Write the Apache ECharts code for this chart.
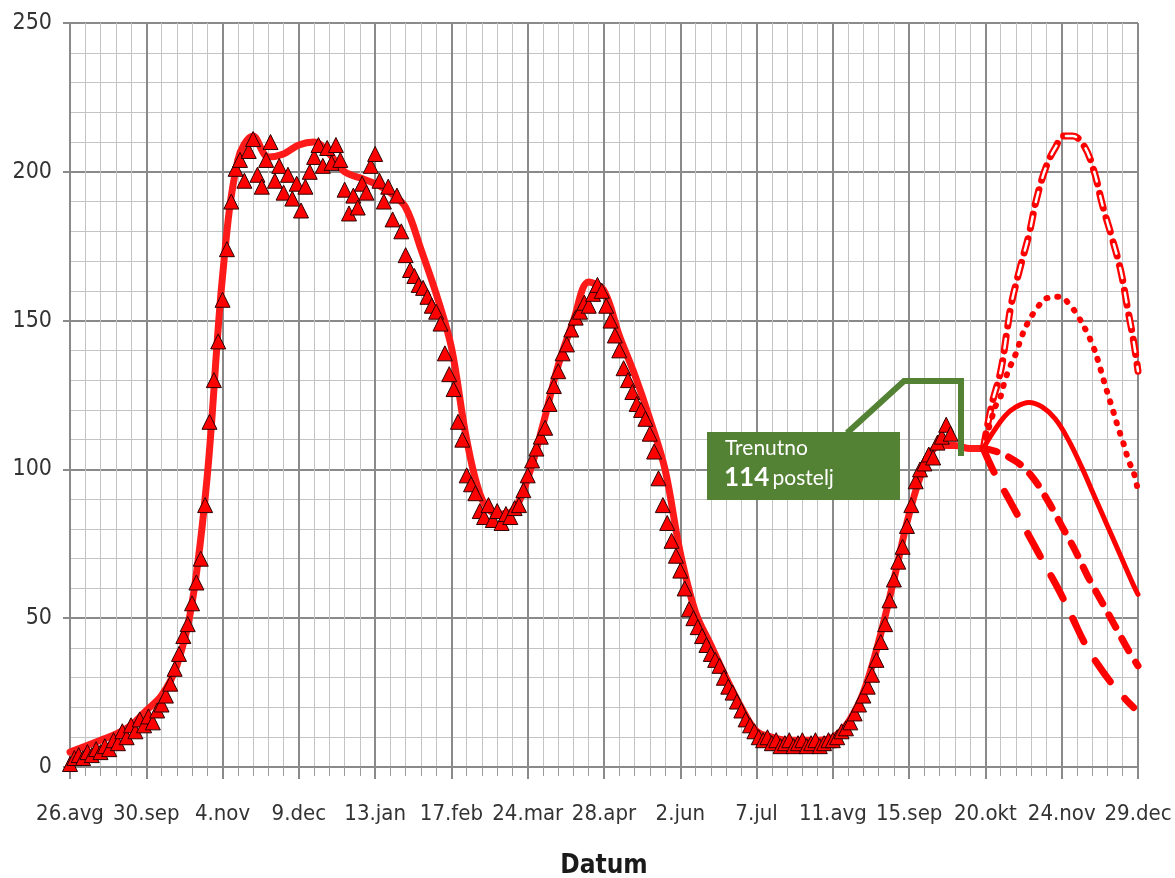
<!DOCTYPE html>
<html>
<head>
<meta charset="utf-8">
<script src="https://cdn.jsdelivr.net/npm/echarts/dist/echarts.min.js"></script>
<style>
html,body{margin:0;padding:0;background:#fff;}
#chart{width:1175px;height:878px;}
</style>
</head>
<body>
<div id="chart"></div>
<script>
// x axis: days since 26.avg (2020); one major tick every 35 days
const tickLabels = ['26.avg','30.sep','4.nov','9.dec','13.jan','17.feb','24.mar','28.apr','2.jun','7.jul','11.avg','15.sep','20.okt','24.nov','29.dec'];
const tickStep = 35;

// measured occupied beds (triangles), one value every 2 days from day 0
const measuredStep = 2;
const measuredValues = [
  1,3,4,3,5,4,6,5,7,6,
  9,8,12,10,14,12,16,14,17,15,
  19,21,24,28,33,38,44,48,55,62,
  70,88,116,130,143,157,174,190,201,204,
  197,207,211,199,195,204,210,197,202,193,
  199,191,196,187,195,200,205,209,202,208,
  203,209,204,194,186,192,188,196,193,202,
  206,197,190,195,184,192,180,172,167,165,
  162,161,158,155,153,149,139,132,127,116,
  110,98,95,92,86,84,88,83,86,82,
  85,84,87,88,93,98,103,107,111,114,
  122,128,133,139,142,147,151,153,156,155,
  159,162,160,155,150,145,140,134,130,126,
  122,120,117,112,106,97,88,82,76,71,
  66,60,53,50,47,44,41,38,36,34,
  30,27,25,22,19,16,14,12,10,9,
  10,8,9,7,8,9,7,8,9,7,
  8,9,7,8,9,9,10,12,13,15,
  18,21,24,27,31,36,42,48,56,63,
  69,74,81,88,96,100,102,105,104,109,
  111,115,112
];

// smoothed model curve (thick red line)
const fitDays   = [0,7,14,21,28,35,42,49,56,63,70,77,84,91,98,105,112,119,126,133,140,147,154,161,168,175,182,189,196,203,210,217,224,231,238,245,252,259,266,273,280,287,294,301,308,315,322,329,336,343,350,357,364,371,378,385,392,399,406,413,419];
const fitValues = [5,7,9,11,14,19,24,34,55,98,165,204,212,205,206,209,210,206,200,198,196,193,188,174,159,141,110,90,85,86,97,115,135,150,163,160,145,132,117,100,72,52,41,30,20,12,10,9,9,9,10,15,25,42,63,85,101,108,108,107,107];

// projections (scenarios)
const projADays   = [419,423,427,430,432,436,440,443.5,448,452,456,460,465,469.5,474,478,482,485,488,490];
const projAValues = [107,122,133,147,156,168,179,191,202,208,212,212,209,201,188,178,167,155,143,133];
const projBDays   = [419,424.5,426.7,429,431.3,434.3,436.6,439.7,443.5,448,454,459,462.6,466.4,469.5,471.8,474,476.3,478.7,481,483.3,485.6,488.6,490];
const projBValues = [107,121,124,130,134.5,139.5,144.6,149.6,154,157.5,158,155,151.3,146.3,141.2,136.2,130.6,125,119.4,113.8,108.8,103.2,97.6,92];
const projCDays   = [419,424,429,434,440,446,452,458,464,470,476,482,488,490];
const projCValues = [107,113,118,121,122.5,121,117,110,101,91,81,71,61,58];
const projDDays   = [419,425,431,437,443,449,455,461,467,473,479,485,490];
const projDValues = [107,106,104,101,96,89,81,73,64,56,48,40,34];
const projEDays   = [419,424,430,436,442,448,454,460,466,472,478,484,488];
const projEValues = [107,99,91,83,75,67,59,50,41,34,28,23,20];

const yTicks = [0,50,100,150,200,250];

function pairs(xs, ys){ return xs.map((x,i)=>[x, ys[i]]); }
const measured = measuredValues.map((v,i)=>[i*measuredStep, v]);

const RED = '#ff0000';
const GREEN = '#548235';
const labelFont = "'Liberation Sans Narrow','DejaVu Sans Condensed','Arial Narrow',sans-serif";

const chart = echarts.init(document.getElementById('chart'), null, {renderer:'canvas'});
chart.setOption({
  animation: false,
  backgroundColor: '#ffffff',
  grid: {left:70, top:23, right:37, bottom:111, containLabel:false, outerBoundsMode:'none'},
  xAxis: {
    type:'value', min:0, max:tickStep*(tickLabels.length-1), interval:tickStep,
    name:'Datum', nameLocation:'middle', nameGap:86,
    nameTextStyle:{fontFamily:labelFont, fontWeight:'bold', fontSize:26, color:'#1a1a1a'},
    axisLine:{show:true, lineStyle:{color:'#8a8a8a', width:2}},
    axisTick:{show:true, length:12, lineStyle:{color:'#8a8a8a', width:2}},
    minorTick:{show:true, splitNumber:5, length:9, lineStyle:{color:'#9a9a9a', width:1}},
    splitLine:{show:true, lineStyle:{color:'#8a8a8a', width:2}},
    minorSplitLine:{show:true, lineStyle:{color:'#c4c4c4', width:1}},
    axisLabel:{
      margin:36, fontFamily:labelFont, fontSize:22, color:'#333333',
      showMinLabel:true, showMaxLabel:true, hideOverlap:false, interval:0,
      formatter:(v)=>tickLabels[Math.round(v/tickStep)] || ''
    }
  },
  yAxis: {
    type:'value', min:yTicks[0], max:yTicks[yTicks.length-1], interval:50,
    axisLine:{show:true, lineStyle:{color:'#8a8a8a', width:2}},
    axisTick:{show:true, length:7, lineStyle:{color:'#8a8a8a', width:2}},
    minorTick:{show:true, splitNumber:5, length:0, lineStyle:{color:'#ffffff', width:0}},
    splitLine:{show:true, lineStyle:{color:'#8a8a8a', width:2}},
    minorSplitLine:{show:true, lineStyle:{color:'#c4c4c4', width:1}},
    axisLabel:{margin:18, fontFamily:labelFont, fontSize:23, color:'#333333', showMinLabel:true, showMaxLabel:true}
  },
  series: [
    {name:'fit', type:'line', data:pairs(fitDays, fitValues), smooth:0.35, showSymbol:false, z:3,
     lineStyle:{color:'#ff1a1a', width:7, cap:'round', join:'round'}},
    {name:'A', type:'line', data:pairs(projADays, projAValues), smooth:0.4, showSymbol:false, z:4,
     lineStyle:{color:RED, width:7, type:[15,10], cap:'round'}},
    {name:'A-inner', type:'line', data:pairs(projADays, projAValues), smooth:0.4, showSymbol:false, z:4,
     lineStyle:{color:'#ffffff', width:2.5, type:[10,15], dashOffset:-2.5, cap:'round'}},
    {name:'B', type:'line', data:pairs(projBDays, projBValues), smooth:0.4, showSymbol:false, z:4,
     lineStyle:{color:RED, width:6, type:[1,10], cap:'round'}},
    {name:'C', type:'line', data:pairs(projCDays, projCValues), smooth:0.4, showSymbol:false, z:4,
     lineStyle:{color:RED, width:5, cap:'round'}},
    {name:'D', type:'line', data:pairs(projDDays, projDValues), smooth:0.4, showSymbol:false, z:4,
     lineStyle:{color:RED, width:7, type:[14,13], cap:'round'}},
    {name:'E', type:'line', data:pairs(projEDays, projEValues), smooth:0.4, showSymbol:false, z:4,
     lineStyle:{color:RED, width:7, type:[26,22], cap:'round'}},
    {name:'measured', type:'scatter', data:measured, symbol:'triangle', symbolSize:[15,15], z:5,
     itemStyle:{color:RED, borderColor:'#2a0000', borderWidth:1, opacity:1}}
  ],
  graphic: [
    {type:'polyline', z:10, shape:{points:[[847,433],[904,381],[961,381],[961,456]]},
     style:{stroke:GREEN, lineWidth:6, fill:null, lineJoin:'miter'}},
    {type:'rect', z:11, shape:{x:707, y:432, width:193, height:68}, style:{fill:GREEN}},
    {type:'text', z:12, left:725, top:438,
     style:{text:'Trenutno', fill:'#ffffff', font:"21px Lato, 'Open Sans', sans-serif"}},
    {type:'text', z:12, left:724, top:465,
     style:{text:'{b|114} {n|postelj}', rich:{
       b:{fill:'#ffffff', fontFamily:"Lato, 'Open Sans', sans-serif", fontWeight:'bold', fontSize:26},
       n:{fill:'#ffffff', fontFamily:"Lato, 'Open Sans', sans-serif", fontSize:21}
     }}}
  ]
});
</script>
</body>
</html>
